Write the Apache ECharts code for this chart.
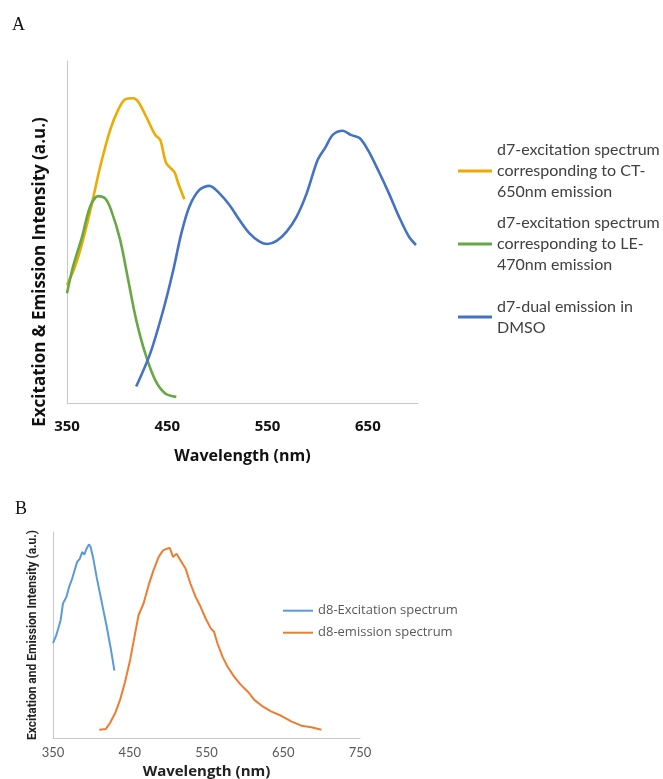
<!DOCTYPE html>
<html>
<head>
<meta charset="utf-8">
<script src="https://cdn.jsdelivr.net/npm/echarts@6/dist/echarts.min.js"></script>
<style>
  html, body { margin: 0; padding: 0; background: #fff; }
  #chart { width: 663px; height: 779px; }
</style>
</head>
<body>
<div id="chart"></div>
<script>
// panel A: [wavelength nm, intensity a.u.]
var d7CtExcitation = [
  [350, 34.5], [358, 39.9], [366, 47.7], [375, 58.5], [383, 69], [393, 79.8],
  [401, 85.7], [408, 88.8], [416, 89.1], [421, 88.1], [429, 83.7], [438, 78.4],
  [443, 76.9], [449, 70.1], [457, 67.6], [461, 64.2], [467, 59.6]
];
var d7LeExcitation = [
  [350, 32.1], [356, 39.9], [365, 48.6], [373, 57.4], [381, 60.5], [388, 59.8],
  [394, 56.4], [403, 47.7], [411, 36], [419, 24.3], [428, 14.5], [438, 6.7],
  [448, 2.8], [459, 1.8]
];
var d7DualEmission = [
  [419, 4.8], [433, 14.5], [446, 27.2], [456, 38.9], [464, 49.6], [472, 57.4],
  [482, 62.3], [492, 63.5], [502, 61.3], [512, 57.9], [522, 53.5], [532, 49.6],
  [542, 47.2], [550, 46.5], [559, 47.4], [569, 50.1], [579, 54.5], [589, 61.3],
  [600, 71.1], [608, 74.9], [615, 78.4], [625, 79.6], [633, 78.4], [642, 77.4],
  [651, 73.5], [661, 67.6], [671, 61.3], [681, 54.5], [691, 48.6], [698, 46.2]
];

// panel B
var d8Excitation = [
  [350, 46], [354.4, 50], [360, 57.3], [363, 65.3], [367.5, 68.5], [371, 73.4],
  [375, 77.4], [381.5, 85.5], [385, 87.1], [388, 90.3], [390.7, 89], [393.7, 91.9],
  [396.8, 94], [399, 92.7], [402.5, 87.1], [406.8, 78.2], [410.3, 71.8],
  [415.6, 62.1], [420, 54], [425.6, 42.7], [430, 32.7]
];
var d8Emission = [
  [410.3, 4], [419, 4.4], [424.3, 7.3], [431, 12.1], [437.4, 18.5], [444, 27.4],
  [450.5, 37.9], [457, 50.8], [461.5, 59.7], [468, 65.3], [474.6, 74.2], [481, 81.5],
  [487.7, 87.9], [493.4, 91.1], [498.6, 91.9], [502, 92.3], [506.5, 87.9], [511, 89.5],
  [516, 86.3], [522.7, 82.3], [529, 75], [535.8, 68.5], [542.3, 63.7], [548.9, 58],
  [555.5, 53.2], [559.8, 51.6], [564.2, 46], [570.8, 39.5], [577.3, 34.7], [586, 29.8],
  [594.8, 25.8], [603.6, 22.6], [612.3, 18.5], [623.2, 15.3], [634, 12.9],
  [647.3, 10.8], [660.4, 8.1], [673.5, 6], [686.6, 5.2], [699.7, 4]
];

var ticksA = [350, 450, 550, 650];
var ticksB = [350, 450, 550, 650, 750];

var legendLinesA = {
  'd7-excitation spectrum corresponding to CT-650nm emission':
    'd7-excitation spectrum\ncorresponding to CT-\n650nm emission',
  'd7-excitation spectrum corresponding to LE-470nm emission':
    'd7-excitation spectrum\ncorresponding to LE-\n470nm emission',
  'd7-dual emission in DMSO': 'd7-dual emission in\nDMSO'
};
var namesA = Object.keys(legendLinesA);

var chart = echarts.init(document.getElementById('chart'));

// one legend per entry so the swatch sits on the first text line
function legendA(name, top, pad) {
  return {
    data: [{ name: name, textStyle: { padding: [pad, 0, 0, 0] } }],
    orient: 'vertical', left: 458, top: top, padding: 0,
    icon: 'rect', itemWidth: 34, itemHeight: 3, itemGap: 0,
    selectedMode: false,
    formatter: function (n) { return legendLinesA[n]; },
    textStyle: { fontFamily: 'Lato', fontSize: 16, color: '#404040', lineHeight: 21 }
  };
}

var option = {
  animation: false,
  backgroundColor: '#fff',
  title: [
    { text: 'A', left: 7, top: 11, textStyle: { fontFamily: 'Liberation Serif', fontWeight: 'normal', fontSize: 18, color: '#111' } },
    { text: 'B', left: 10, top: 495, textStyle: { fontFamily: 'Liberation Serif', fontWeight: 'normal', fontSize: 18, color: '#111' } }
  ],
  legend: [
    legendA(namesA[0], 118.5, 42),
    legendA(namesA[1], 191.5, 42),
    legendA(namesA[2], 285.5, 21),
    {
      data: ['d8-Excitation spectrum', 'd8-emission spectrum'],
      orient: 'vertical', left: 283, top: 602.7, padding: 0,
      icon: 'rect', itemWidth: 30, itemHeight: 2, itemGap: 6,
      selectedMode: false,
      textStyle: { fontFamily: 'Open Sans', fontSize: 13, color: '#595959', lineHeight: 16 }
    }
  ],
  grid: [
    { left: 67, top: 61, width: 351, height: 342, outerBoundsMode: 'none' },
    { left: 53, top: 532, width: 307, height: 206, outerBoundsMode: 'none' }
  ],
  xAxis: [
    {
      gridIndex: 0, type: 'value', min: 350, max: 700, interval: 50,
      name: 'Wavelength (nm)', nameLocation: 'middle', nameGap: 45,
      nameTextStyle: { fontFamily: 'Open Sans', fontWeight: 'bold', fontSize: 16, color: '#111' },
      axisLine: { lineStyle: { color: '#c8c8c8', width: 1 } },
      axisTick: { show: false }, splitLine: { show: false },
      axisLabel: {
        margin: 16, fontFamily: 'Open Sans', fontWeight: 'bold', fontSize: 15, color: '#111',
        formatter: function (v) { return ticksA.indexOf(v) >= 0 ? String(v) : ''; }
      }
    },
    {
      gridIndex: 1, type: 'value', min: 350, max: 750, interval: 50,
      name: 'Wavelength (nm)', nameLocation: 'middle', nameGap: 26,
      nameTextStyle: { fontFamily: 'Open Sans', fontWeight: 'bold', fontSize: 15, color: '#222' },
      axisLine: { lineStyle: { color: '#c8c8c8', width: 1 } },
      axisTick: { show: false }, splitLine: { show: false },
      axisLabel: {
        margin: 8, fontFamily: 'Lato', fontSize: 13, color: '#595959',
        formatter: function (v) { return ticksB.indexOf(v) >= 0 ? String(v) : ''; }
      }
    }
  ],
  yAxis: [
    {
      gridIndex: 0, type: 'value', min: 0, max: 100,
      name: 'Excitation & Emission Intensity (a.u.)', nameLocation: 'middle', nameGap: 18,
      nameTextStyle: { fontFamily: 'Open Sans', fontWeight: 'bold', fontSize: 17, color: '#111', padding: [0, 80, 0, 0] },
      axisLine: { show: true, lineStyle: { color: '#c8c8c8', width: 1 } },
      axisTick: { show: false }, axisLabel: { show: false }, splitLine: { show: false }
    },
    {
      gridIndex: 1, type: 'value', min: 0, max: 100,
      name: 'Excitation and Emission Intensity (a.u.)', nameLocation: 'middle', nameGap: 14,
      nameTextStyle: { fontFamily: 'Roboto', fontWeight: 'bold', fontSize: 12, color: '#222' },
      axisLine: { show: true, lineStyle: { color: '#c8c8c8', width: 1 } },
      axisTick: { show: false }, axisLabel: { show: false }, splitLine: { show: false }
    }
  ],
  series: [
    {
      name: namesA[0], type: 'line', xAxisIndex: 0, yAxisIndex: 0,
      data: d7CtExcitation, symbol: 'none', smooth: 0.3,
      lineStyle: { color: '#EEAA00', width: 2.6 }, itemStyle: { color: '#EEAA00' }
    },
    {
      name: namesA[1], type: 'line', xAxisIndex: 0, yAxisIndex: 0,
      data: d7LeExcitation, symbol: 'none', smooth: 0.3,
      lineStyle: { color: '#66A844', width: 2.6 }, itemStyle: { color: '#66A844' }
    },
    {
      name: namesA[2], type: 'line', xAxisIndex: 0, yAxisIndex: 0,
      data: d7DualEmission, symbol: 'none', smooth: 0.3,
      lineStyle: { color: '#4472C4', width: 2.6 }, itemStyle: { color: '#4472C4' }
    },
    {
      name: 'd8-Excitation spectrum', type: 'line', xAxisIndex: 1, yAxisIndex: 1,
      data: d8Excitation, symbol: 'none',
      lineStyle: { color: '#5B9BD5', width: 2 }, itemStyle: { color: '#5B9BD5' }
    },
    {
      name: 'd8-emission spectrum', type: 'line', xAxisIndex: 1, yAxisIndex: 1,
      data: d8Emission, symbol: 'none',
      lineStyle: { color: '#ED7D31', width: 2 }, itemStyle: { color: '#ED7D31' }
    }
  ]
};

chart.setOption(option);
</script>
</body>
</html>
